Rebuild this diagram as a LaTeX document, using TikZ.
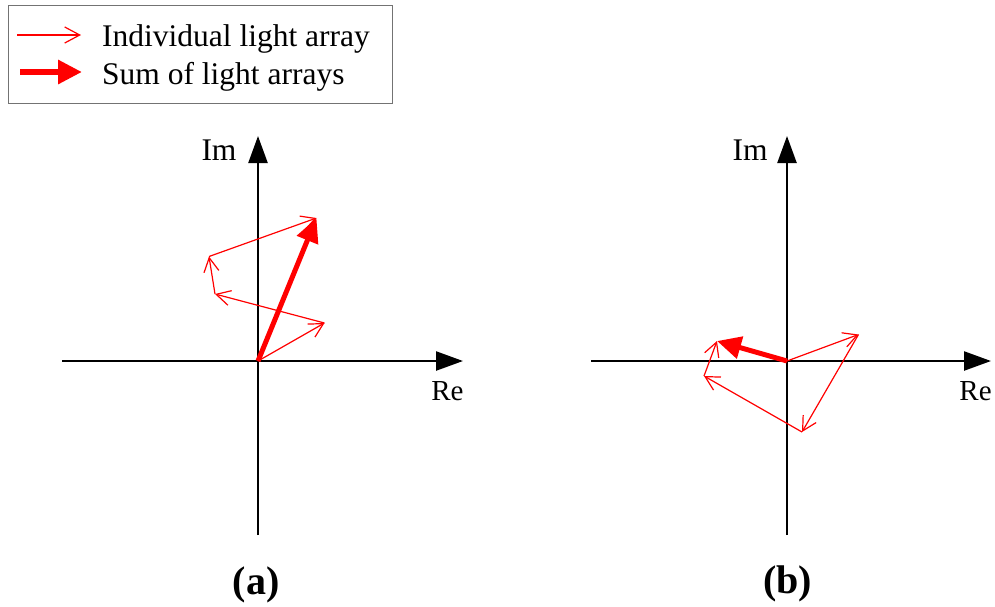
\documentclass[tikz,border=0pt]{standalone}
\usepackage{fontspec}
\setmainfont{LiberationSerif}[Extension=.ttf,UprightFont=*-Regular,BoldFont=*-Bold,ItalicFont=*-Italic,BoldItalicFont=*-BoldItalic]
\usetikzlibrary{arrows.meta}
\begin{document}
\begin{tikzpicture}[x=1pt,y=-1pt,
  axis/.style={line width=2.4pt,-{Triangle[length=27pt,width=19pt]}},
  vec/.style={red,line width=1.2pt,-{Straight Barb[length=14pt,width=15pt,line width=1.2pt]}},
  sumvec/.style={red,line width=5pt,-{Triangle[length=24pt,width=22pt]}},
  lbl/.style={font=\fontsize{31.5}{36}\selectfont,inner sep=0pt},
  relbl/.style={font=\fontsize{29}{34}\selectfont,inner sep=0pt},
  captext/.style={font=\fontsize{40}{46}\selectfont\bfseries,inner sep=0pt}]
\useasboundingbox (0,0) rectangle (995,606);
% legend
\node[draw=black!55,line width=1pt,minimum width=384pt,minimum height=98pt,inner sep=0pt] (legend) at (200,54) {};
\coordinate (l1a) at (17,35); \coordinate (l1b) at (81,35);
\coordinate (l2a) at (20,72); \coordinate (l2b) at (82,72);
\draw[vec,-{Straight Barb[length=15pt,width=16pt,line width=1.2pt]}] (l1a) -- (l1b);
\draw[sumvec,line width=6pt,-{Triangle[length=24pt,width=23pt]}] (l2a) -- (l2b);
\node[lbl,anchor=base west] (t1) at (102,46) {Individual light array};
\node[lbl,anchor=base west] (t2) at (102,84) {Sum of light arrays};
% panel (a)
\coordinate (oa) at (258,361);
\coordinate (axl) at (62,361); \coordinate (axr) at (463,361);
\coordinate (ayb) at (258,535); \coordinate (ayt) at (258,136);
\draw[axis] (axl) -- (axr);
\draw[axis] (ayb) -- (ayt);
\node[lbl] (ima) at (219,150) {Im};
\node[relbl] (rea) at (447.5,391) {Re};
\coordinate (a1) at (324.5,323);
\coordinate (a2) at (215,294);
\coordinate (a3) at (209,256.5);
\coordinate (a4) at (316.5,218);
\draw[vec] (oa) -- (a1);
\draw[vec] (a1) -- (a2);
\draw[vec] (a2) -- (a3);
\draw[vec] (a3) -- (a4);
\draw[sumvec] (oa) -- (a4);
\node[captext] (capa) at (256,585) {(a)};
% panel (b)
\coordinate (ob) at (787,361);
\coordinate (bxl) at (591,361); \coordinate (bxr) at (991,361);
\coordinate (byb) at (787,535); \coordinate (byt) at (787,136);
\draw[axis] (bxl) -- (bxr);
\draw[axis] (byb) -- (byt);
\node[lbl] (imb) at (750,150) {Im};
\node[relbl] (reb) at (975.5,391) {Re};
\coordinate (b1) at (858.5,334.5);
\coordinate (b2) at (802,432);
\coordinate (b3) at (704,376);
\coordinate (b4) at (717,341);
\draw[vec] (ob) -- (b1);
\draw[vec] (b1) -- (b2);
\draw[vec] (b2) -- (b3);
\draw[vec] (b3) -- (b4);
\draw[sumvec] (ob) -- (b4);
\node[captext] (capb) at (787.5,584) {(b)};
\end{tikzpicture}
\end{document}
